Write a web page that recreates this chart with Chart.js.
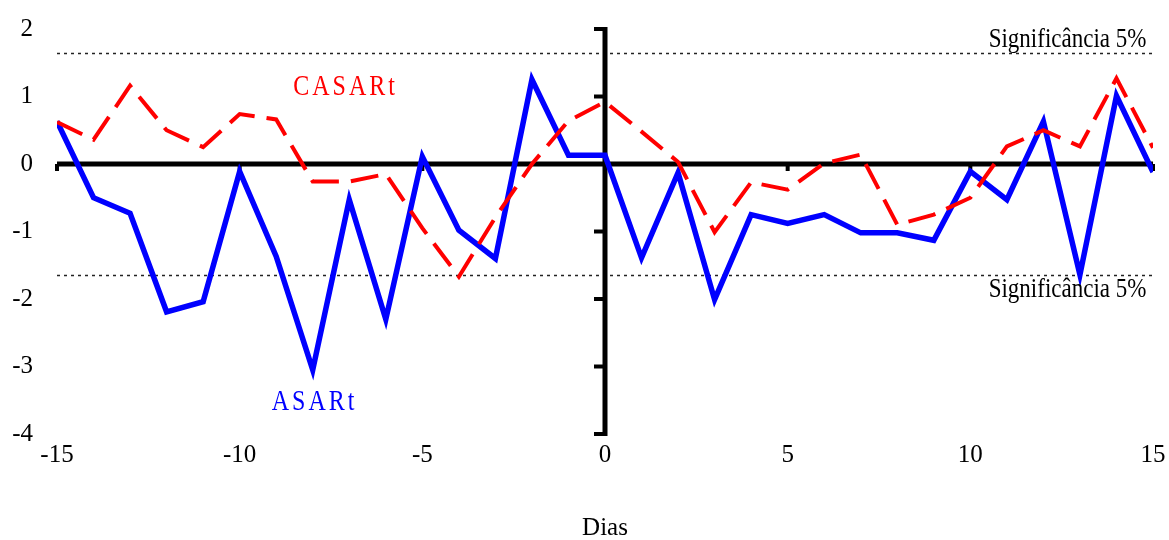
<!DOCTYPE html>
<html>
<head>
<meta charset="utf-8">
<script src="https://cdn.jsdelivr.net/npm/chart.js@4/dist/chart.umd.min.js"></script>
<style>
  html, body { margin: 0; padding: 0; background: #fff; }
  #chart { display: block; }
</style>
</head>
<body>
<canvas id="chart" width="1169" height="540"></canvas>
<script>
// dias relativos ao evento
const days = [-15, -14, -13, -12, -11, -10, -9, -8, -7, -6, -5, -4, -3, -2, -1, 0,
              1, 2, 3, 4, 5, 6, 7, 8, 9, 10, 11, 12, 13, 14, 15];
const asar = [0.63, -0.50, -0.73, -2.19, -2.04, -0.11, -1.37, -3.05, -0.53, -2.30, 0.11,
              -0.98, -1.40, 1.25, 0.13, 0.13, -1.39, -0.13, -2.01, -0.75, -0.88,
              -0.75, -1.02, -1.02, -1.13, -0.11, -0.53, 0.63, -1.64, 1.01, -0.12];
const casar = [0.62, 0.36, 1.16, 0.50, 0.25, 0.74, 0.66, -0.26, -0.26, -0.15, -0.95,
               -1.67, -0.79, 0.00, 0.64, 0.92, 0.48, 0.03, -1.01, -0.27, -0.38,
               0.01, 0.14, -0.90, -0.75, -0.50, 0.26, 0.50, 0.26, 1.27, 0.24];
const significance = 1.65;
const xTicks = [-15, -10, -5, 0, 5, 10, 15];
const yTicks = [2, 1, 0, -1, -2, -3, -4];

const serif = "'Liberation Serif', 'Times New Roman', serif";

function drawText(ctx, text, x, y, size, color, align, spacing) {
  ctx.save();
  ctx.font = size + 'px ' + serif;
  ctx.fillStyle = color;
  ctx.textAlign = align;
  ctx.textBaseline = 'middle';
  if (spacing) ctx.letterSpacing = spacing + 'px';
  ctx.translate(x, y);
  ctx.scale(1, 1.22);
  ctx.fillText(text, 0, 0);
  ctx.restore();
}

const axesPlugin = {
  id: 'axesPlugin',
  beforeDatasetsDraw(chart) {
    const ctx = chart.ctx;
    const xs = chart.scales.x, ys = chart.scales.y;
    const x0 = xs.getPixelForValue(0), y0 = ys.getPixelForValue(0);
    const left = xs.getPixelForValue(-15), right = xs.getPixelForValue(15);
    ctx.save();

    // linhas de significancia
    ctx.strokeStyle = '#222';
    ctx.lineWidth = 1.5;
    ctx.setLineDash([3, 4]);
    [significance, -significance].forEach(v => {
      const y = Math.round(ys.getPixelForValue(v)) + 0.5;
      ctx.beginPath();
      ctx.moveTo(left, y);
      ctx.lineTo(right, y);
      ctx.stroke();
    });
    ctx.setLineDash([]);

    // eixo horizontal em zero
    ctx.strokeStyle = '#000';
    ctx.lineWidth = 5;
    ctx.beginPath();
    ctx.moveTo(left, y0);
    ctx.lineTo(right, y0);
    ctx.stroke();
    ctx.lineWidth = 4;
    xTicks.forEach(v => {
      const x = xs.getPixelForValue(v);
      ctx.beginPath();
      ctx.moveTo(x, y0);
      ctx.lineTo(x, y0 + 7);
      ctx.stroke();
    });

    // eixo vertical em zero
    ctx.lineWidth = 5;
    ctx.beginPath();
    ctx.moveTo(x0, ys.getPixelForValue(2) - 2);
    ctx.lineTo(x0, ys.getPixelForValue(-4) + 2);
    ctx.stroke();
    ctx.lineWidth = 4;
    yTicks.forEach(v => {
      const y = ys.getPixelForValue(v);
      ctx.beginPath();
      ctx.moveTo(x0, y);
      ctx.lineTo(x0 - 11, y);
      ctx.stroke();
    });
    ctx.restore();
  },
  afterDraw(chart) {
    const ctx = chart.ctx;
    const xs = chart.scales.x, ys = chart.scales.y;
    const px = v => xs.getPixelForValue(v), py = v => ys.getPixelForValue(v);
    drawText(ctx, 'CASARt', px(-7.1), py(1.13), 24, '#ff0000', 'center', 3);
    drawText(ctx, 'ASARt', px(-7.95), py(-3.53), 24, '#0000ff', 'center', 3);
    drawText(ctx, 'Significância 5%', px(14.82), py(1.84), 23, '#000', 'right', 0);
    drawText(ctx, 'Significância 5%', px(14.82), py(-1.86), 23, '#000', 'right', 0);
  }
};

new Chart(document.getElementById('chart'), {
  type: 'line',
  data: {
    datasets: [
      {
        label: 'ASARt',
        data: days.map((d, i) => ({x: d, y: asar[i]})),
        borderColor: '#0000ff',
        borderWidth: 5.5,
        pointRadius: 0,
        tension: 0,
        order: 1
      },
      {
        label: 'CASARt',
        data: days.map((d, i) => ({x: d, y: casar[i]})),
        borderColor: '#ff0000',
        borderWidth: 4,
        borderDash: [28, 12],
        pointRadius: 0,
        tension: 0,
        order: 0
      }
    ]
  },
  options: {
    responsive: false,
    animation: false,
    devicePixelRatio: 1,
    layout: { autoPadding: false, padding: { top: 29, right: 16, left: 0, bottom: 0 } },
    plugins: {
      legend: { display: false },
      tooltip: { enabled: false }
    },
    scales: {
      x: {
        type: 'linear',
        min: -15,
        max: 15,
        afterBuildTicks: s => { s.ticks = xTicks.map(v => ({value: v})); },
        afterFit: s => { s.height = 106; s.paddingLeft = 0; s.paddingRight = 0; },
        grid: { display: false, drawTicks: false },
        border: { display: false },
        ticks: { color: '#000', padding: 6, maxRotation: 0, font: { family: serif, size: 25 } },
        title: { display: true, text: 'Dias', color: '#000', padding: { top: 0, bottom: -3 }, font: { family: serif, size: 25 } }
      },
      y: {
        type: 'linear',
        min: -4,
        max: 2,
        afterBuildTicks: s => { s.ticks = yTicks.map(v => ({value: v})); },
        afterFit: s => { s.width = 57; s.paddingTop = 0; s.paddingBottom = 0; },
        grid: { display: false, drawTicks: false },
        border: { display: false },
        ticks: { color: '#000', padding: 24, font: { family: serif, size: 25 } }
      }
    }
  },
  plugins: [axesPlugin]
});
</script>
</body>
</html>
